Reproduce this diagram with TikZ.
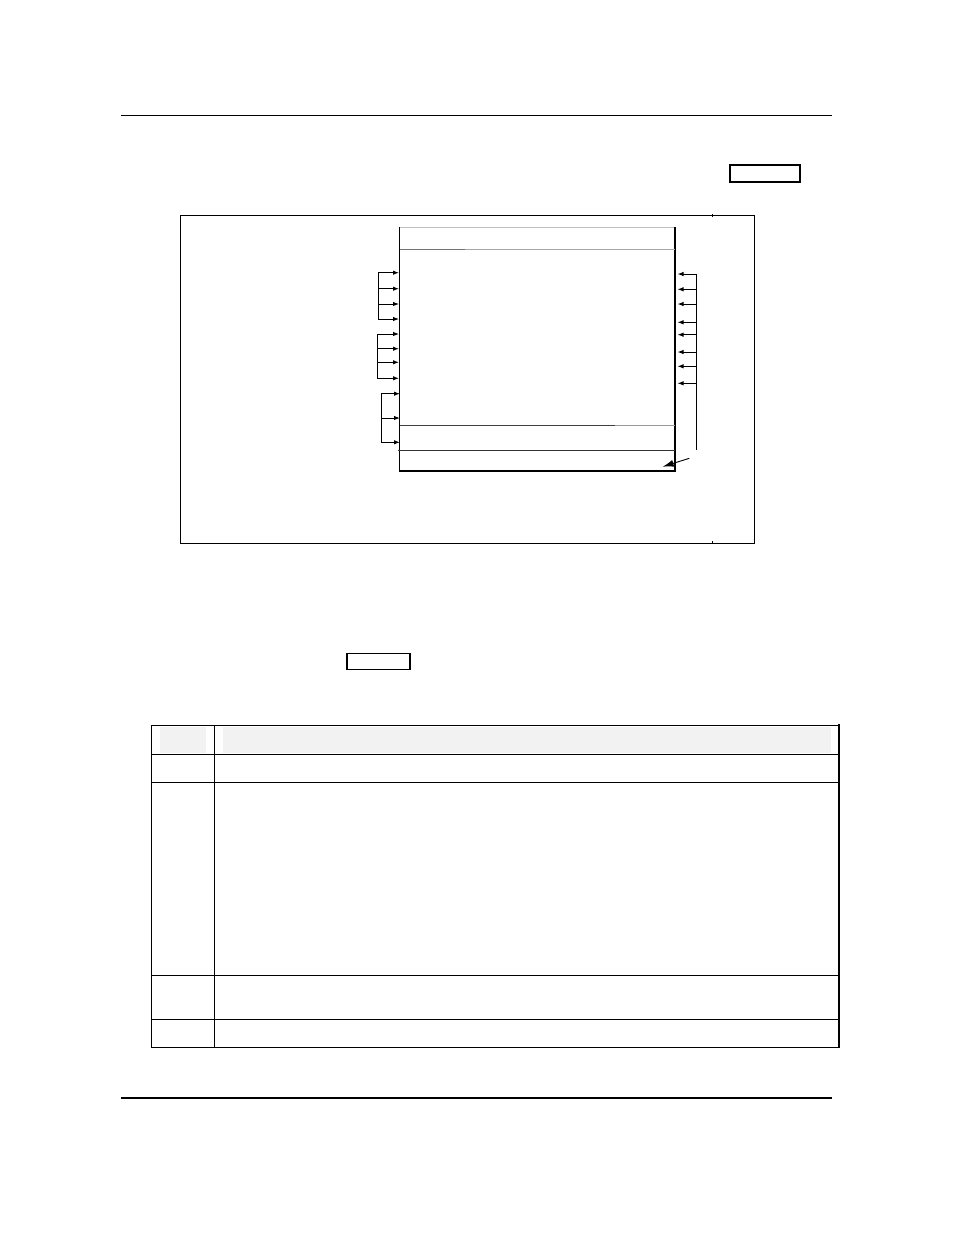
\documentclass[tikz,border=0pt]{standalone}
\usetikzlibrary{arrows.meta}
\begin{document}
\begin{tikzpicture}[x=1pt,y=-1pt,
  rule/.style={line width=1.1pt},
  thinframe/.style={draw,line width=1pt},
  tag/.style={draw,line width=1.6pt},
  bus/.style={line width=1pt},
  sig/.style={line width=1pt,-{Latex[length=6pt,width=4.5pt]}},
  bigsig/.style={line width=0.9pt,-{Latex[length=11pt,width=7pt]}},
  grid/.style={line width=1.2pt},
  hdr/.style={fill=black!5,draw=none}]
\useasboundingbox (0,0) rectangle (954,1235);

% page rules
\draw[rule] (121,115.5) -- (832,115.5);
\draw[rule] (121,1098) -- (832,1098);

% small tag boxes
\draw[tag] (730,165) rectangle (800,182);
\draw[tag] (347,653.5) rectangle (410,669.5);

% figure frame
\draw[thinframe] (180.3,215.5) rectangle (754,543);
\draw[line width=0.8pt] (712,214) -- (712,217);
\draw[line width=0.8pt] (712,541) -- (712,544);

% inner block
\draw[black!25,line width=1.2pt] (399.5,227.5) -- (675,227.5);
\draw[line width=1.1pt] (399.5,227) -- (399.5,471) -- (675,471) -- (675,227);
\draw[black!55,line width=0.9pt] (399.5,249.7) -- (465,249.7);
\draw[black!35,line width=0.9pt] (465,249.7) -- (675,249.7);
\draw[black!75,line width=0.9pt] (399.5,425.3) -- (615,425.3);
\draw[black!40,line width=0.9pt] (615,425.3) -- (675,425.3);
\draw[black!80,line width=0.9pt] (398,450.3) -- (675,450.3);

% left group 1
\foreach \y [count=\i] in {272.7,288.7,304,319} {
  \coordinate (la\i) at (378.3,\y);
  \coordinate (ta\i) at (399,\y);
  \draw[sig] (la\i) -- (ta\i);
}
\draw[bus] (la1) -- (la4);
% left group 2
\foreach \y [count=\i] in {334,348.7,362.3,378.3} {
  \coordinate (lb\i) at (377.3,\y);
  \coordinate (tb\i) at (399,\y);
  \draw[sig] (lb\i) -- (tb\i);
}
\draw[bus] (lb1) -- (lb4);
% left group 3
\foreach \y [count=\i] in {393.7,418,442.3} {
  \coordinate (lc\i) at (381.3,\y);
  \coordinate (tc\i) at (400,\y);
  \draw[sig] (lc\i) -- (tc\i);
}
\draw[bus] (lc1) -- (lc3);

% right group
\coordinate (rtop) at (696.7,274);
\coordinate (rbot) at (696.7,450);
\draw[bus] (rtop) -- (rbot);
\foreach \y [count=\i] in {274,289.3,304,322.3,334.7,352,366.3,383.3} {
  \coordinate (rs\i) at (696.7,\y);
  \coordinate (rt\i) at (677.5,\y);
  \draw[sig] (rs\i) -- (rt\i);
}

% diagonal pointer
\coordinate (dA) at (689.3,458.3);
\coordinate (dB) at (662.7,466.7);
\draw[bigsig] (dA) -- (dB);

% table header shading
\fill[hdr] (160,727) rectangle (206,752.7);
\fill[hdr] (223,727) rectangle (831,752.7);

% table grid
\draw[grid] (151.7,725.3) -- (839,725.3);
\draw[grid] (151.7,725.3) -- (151.7,1047.3) -- (839,1047.3);
\draw[line width=2pt] (838.7,724.3) -- (838.7,1048.3);
\foreach \y in {754.3,782.3,975.3,1019.7} {
  \draw[grid] (151.7,\y) -- (839,\y);
}
\draw[grid] (214.3,725.3) -- (214.3,1047.3);
\end{tikzpicture}
\end{document}
